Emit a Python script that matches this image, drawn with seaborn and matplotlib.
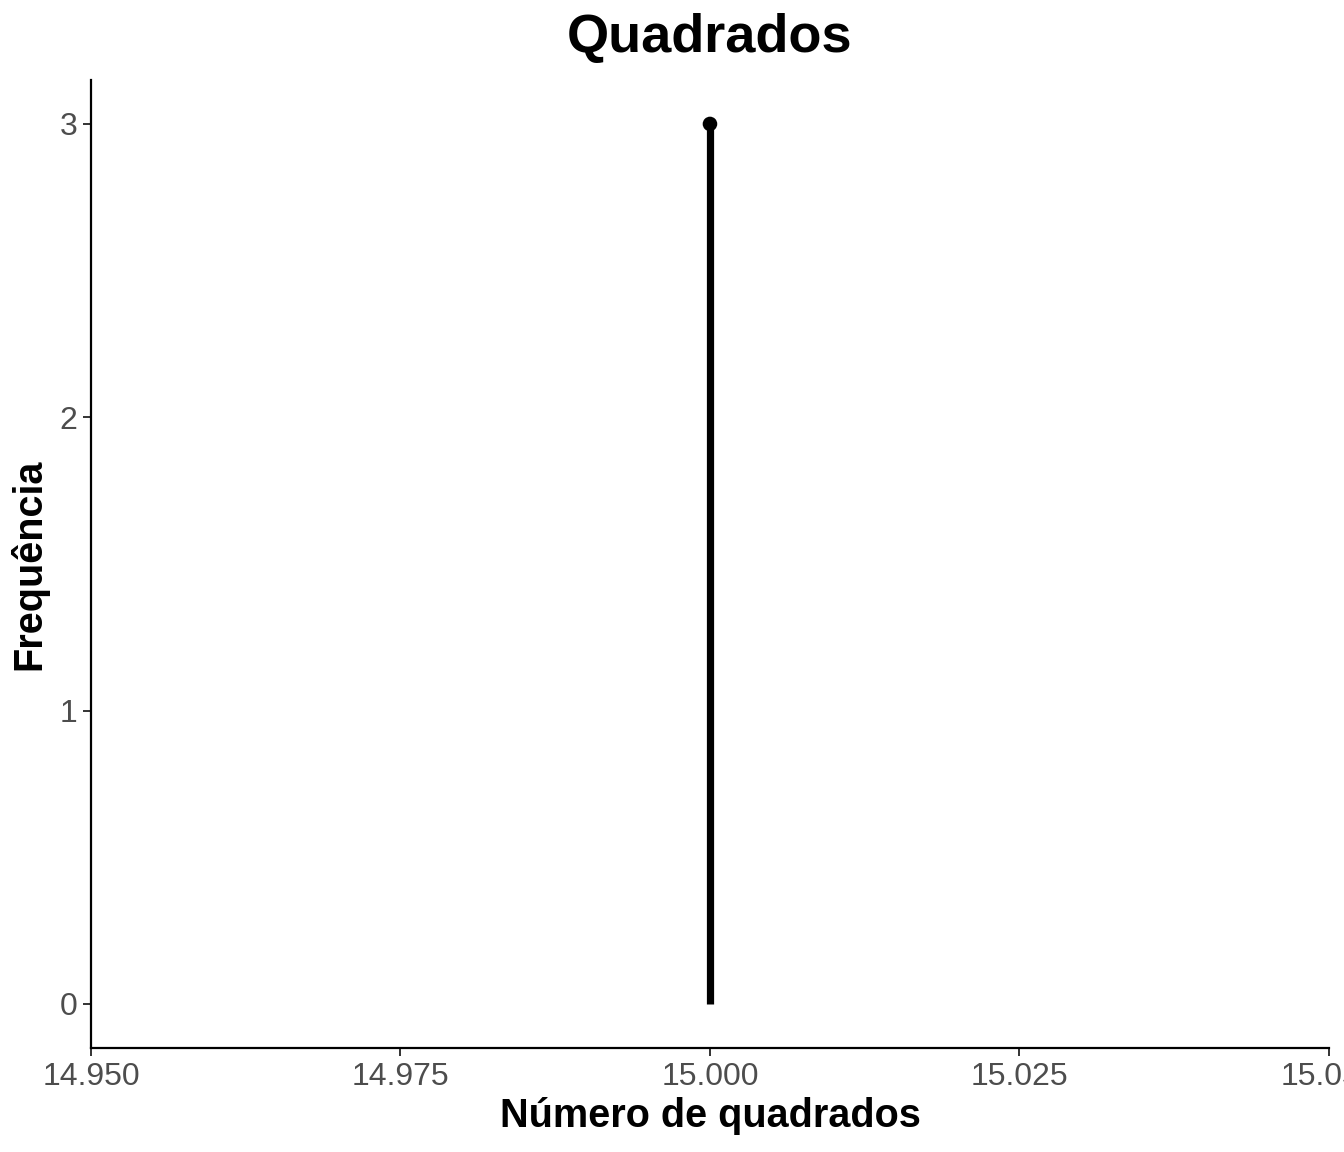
import matplotlib
matplotlib.use("Agg")
import matplotlib.pyplot as plt
import seaborn as sns
import pandas as pd

valores = [15]
frequencias = [3]
xticks = [14.950, 14.975, 15.000, 15.025, 15.050]
yticks = [0, 1, 2, 3]

df = pd.DataFrame({"x": valores, "y": frequencias})

sns.set_theme(style="ticks")
plt.rcParams['font.family'] = ['Liberation Sans', 'DejaVu Sans']

fig = plt.figure(figsize=(13.44, 11.52), dpi=100)
ax = fig.add_axes([0.0677, 0.0903, 0.9211, 0.8403])

ax.vlines(df["x"], 0, df["y"], color="black", linewidth=5.2)
sns.scatterplot(data=df, x="x", y="y", ax=ax, color="black", s=110, edgecolor="none", zorder=3)

ax.set_xlim(14.95, 15.05)
ax.set_ylim(-0.15, 3.15)
ax.set_xticks(xticks)
ax.set_xticklabels([f"{v:.3f}" for v in xticks])
ax.set_yticks(yticks)
ax.set_yticklabels([str(v) for v in yticks])

for s in ["top", "right"]:
    ax.spines[s].set_visible(False)
for s in ["left", "bottom"]:
    ax.spines[s].set_linewidth(1.6)
    ax.spines[s].set_color("black")

ax.tick_params(axis="both", labelsize=23, colors="#4D4D4D", length=6, width=1.4)
ax.tick_params(axis="both", color="#333333")
ax.tick_params(axis="x", pad=4)
ax.tick_params(axis="y", pad=4)

ax.set_xlabel("Número de quadrados", fontsize=28.5, fontweight="bold", color="black", labelpad=4)
ax.set_ylabel("Frequência", fontsize=28.5, fontweight="bold", color="black", labelpad=8)
ax.set_title("Quadrados", fontsize=39, fontweight="bold", color="black", pad=20)

fig.savefig("out.png", dpi=100)
